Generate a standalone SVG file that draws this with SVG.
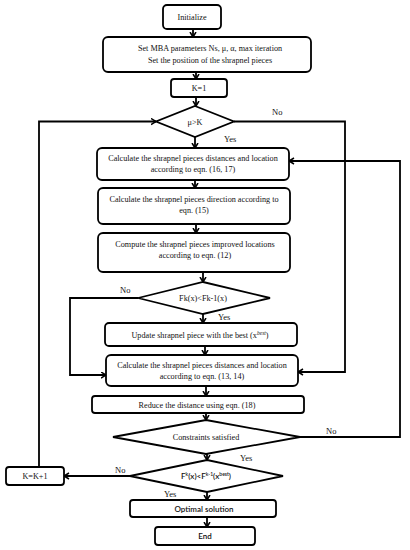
<svg xmlns="http://www.w3.org/2000/svg" width="410" height="550" viewBox="0 0 410 550">
<defs>
<marker id="ah" markerUnits="userSpaceOnUse" markerWidth="8" markerHeight="8" refX="5.5" refY="3.5" orient="auto">
<path d="M0.5,0.5 L5.5,3.5 L0.5,6.5" fill="none" stroke="#000" stroke-width="1.5"/>
</marker>
</defs>
<style>
.box{fill:#fff;stroke:#000;stroke-width:1.8}
.dia{fill:#fff;stroke:#000;stroke-width:1.8}
.t{font-family:"Liberation Serif","Times New Roman",serif;font-size:8.2px;text-anchor:middle;fill:#111}
.s{font-family:Lato,"Liberation Sans",sans-serif;font-size:8px;text-anchor:middle;fill:#111;font-weight:600}
.lbl{font-family:"Liberation Serif","Times New Roman",serif;font-size:8.5px;fill:#111}
.ca{fill:none;stroke:#000;stroke-width:1.8;marker-end:url(#ah)}
</style>
<g id="connectors">
<line class="ca" x1="193" y1="29" x2="193" y2="37"/>
<line class="ca" x1="196" y1="72" x2="196" y2="79"/>
<line class="ca" x1="196" y1="97" x2="196" y2="106"/>
<line class="ca" x1="195" y1="137" x2="195" y2="148"/>
<line class="ca" x1="195" y1="180" x2="195" y2="188"/>
<line class="ca" x1="196" y1="224" x2="196" y2="233"/>
<line class="ca" x1="203" y1="272" x2="203" y2="282"/>
<line class="ca" x1="203" y1="314" x2="203" y2="323"/>
<line class="ca" x1="205" y1="346" x2="205" y2="355"/>
<line class="ca" x1="206" y1="386" x2="206" y2="396"/>
<line class="ca" x1="206" y1="413" x2="206" y2="420"/>
<line class="ca" x1="207" y1="454" x2="207" y2="460"/>
<line class="ca" x1="207" y1="492" x2="207" y2="500"/>
<line class="ca" x1="207" y1="517" x2="207" y2="527"/>
<polyline class="ca" points="39,467 39,121.5 156,121.5"/>
<polyline class="ca" points="234,121.5 345,121.5 345,372 298,372"/>
<polyline class="ca" points="138,298 70,298 70,375 106,375"/>
<polyline class="ca" points="300,437 400,437 400,161 289,161"/>
<line class="ca" x1="130" y1="476" x2="64" y2="476"/>
<text class="lbl" x="272" y="115">No</text>
<text class="lbl" x="224" y="142">Yes</text>
<text class="lbl" x="120" y="293">No</text>
<text class="lbl" x="218" y="320">Yes</text>
<text class="lbl" x="326" y="434">No</text>
<text class="lbl" x="240" y="461">Yes</text>
<text class="lbl" x="115" y="473">No</text>
<text class="lbl" x="164" y="497">Yes</text>
</g>
<g id="initialize">
<rect class="box" x="163" y="5" width="58" height="24" rx="4"/>
<text class="t" x="192" y="19.5">Initialize</text>
</g>
<g id="set-params">
<rect class="box" x="103" y="37" width="208" height="35" rx="5"/>
<text class="t" x="210" y="51">Set MBA parameters Ns, μ, α, max iteration</text>
<text class="t" x="210" y="62.5">Set the position of the shrapnel pieces</text>
</g>
<g id="k1">
<rect class="box" x="171" y="79" width="56" height="18" rx="3"/>
<text class="t" x="199" y="91">K=1</text>
</g>
<g id="dec-mu">
<polygon class="dia" points="195,106 234,121.5 195,137 156,121.5"/>
<text class="t" x="195" y="124.5">μ&gt;K</text>
</g>
<g id="calc1">
<rect class="box" x="97" y="148" width="192" height="32" rx="5"/>
<text class="t" x="193" y="161">Calculate the shrapnel pieces distances and location</text>
<text class="t" x="193" y="172">according to eqn. (16, 17)</text>
</g>
<g id="direction">
<rect class="box" x="98" y="188" width="192" height="36" rx="5"/>
<text class="t" x="194" y="201.5">Calculate the shrapnel pieces direction according to</text>
<text class="t" x="194" y="212.5">eqn. (15)</text>
</g>
<g id="improved">
<rect class="box" x="98" y="233" width="192" height="39" rx="5"/>
<text class="t" x="195" y="247">Compute the shrapnel pieces improved locations</text>
<text class="t" x="195" y="258">according to eqn. (12)</text>
</g>
<g id="dec-fk">
<polygon class="dia" points="203,282 270,298 203,314 138,298"/>
<text class="t" x="203" y="301">Fk(x)&lt;Fk-1(x)</text>
</g>
<g id="update">
<rect class="box" x="105" y="323" width="192" height="23" rx="4"/>
<text class="t" x="200" y="337.5">Update shrapnel piece with the best (x<tspan font-size="5.5" baseline-shift="3" font-style="italic">best</tspan>)</text>
</g>
<g id="calc2">
<rect class="box" x="106" y="355" width="192" height="31" rx="5"/>
<text class="t" x="202" y="367.5">Calculate the shrapnel pieces distances and location</text>
<text class="t" x="202" y="378.5">according to eqn. (13, 14)</text>
</g>
<g id="reduce">
<rect class="box" x="92" y="396" width="212" height="17" rx="3"/>
<text class="t" x="197" y="407.5">Reduce the distance using eqn. (18)</text>
</g>
<g id="dec-constraints">
<polygon class="dia" points="206,420 300,437 206,454 113,437"/>
<text class="t" x="206" y="440">Constraints satisfied</text>
</g>
<g id="dec-best">
<polygon class="dia" points="207,460 283,476 207,492 130,476"/>
<text class="s" x="206" y="479" font-size="7" font-weight="400">F<tspan font-size="5" baseline-shift="3">k</tspan>(x)&lt;F<tspan font-size="5" baseline-shift="3">k-1</tspan>(x<tspan font-size="5" baseline-shift="3">best</tspan>)</text>
</g>
<g id="kinc">
<rect class="box" x="6" y="467" width="58" height="18" rx="3"/>
<text class="t" x="35" y="479">K=K+1</text>
</g>
<g id="optimal">
<rect class="box" x="130" y="500" width="146" height="17" rx="3"/>
<text class="s" x="204" y="511.5">Optimal solution</text>
</g>
<g id="end">
<rect class="box" x="155" y="527" width="100" height="18" rx="3"/>
<text class="s" x="205" y="539">End</text>
</g>
</svg>
